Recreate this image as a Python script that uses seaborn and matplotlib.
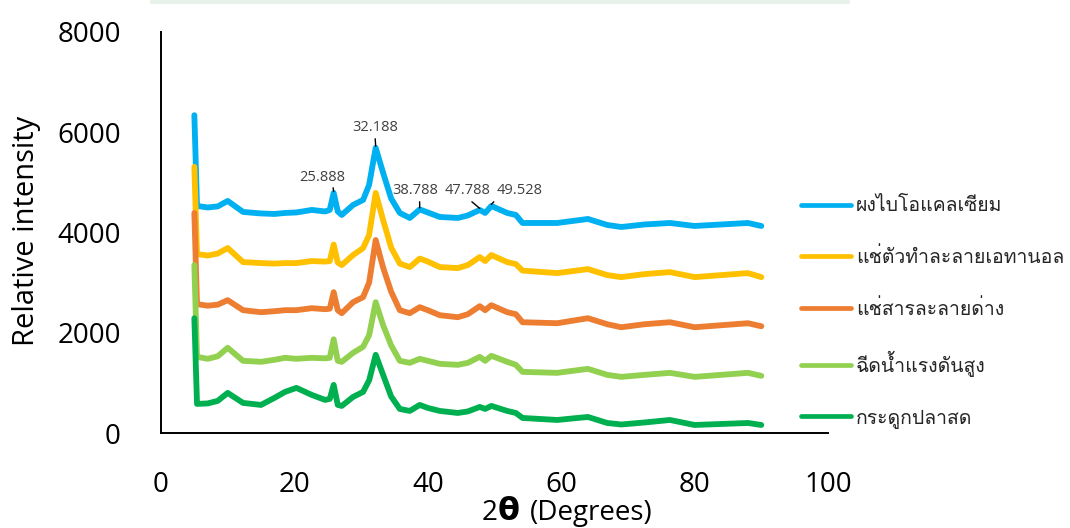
import matplotlib
matplotlib.use("Agg")
import matplotlib.pyplot as plt
import numpy as np
import pandas as pd
import seaborn as sns
from matplotlib import font_manager
from matplotlib.ft2font import FT2Font
from matplotlib.patches import Rectangle

# 2-theta scan positions (degrees) shared by every sample
two_theta = [5.0, 5.4, 7.0, 8.5, 10.0, 12.3, 15.0, 17.0, 18.6, 20.3, 22.6, 24.6,
             25.3, 25.888, 26.5, 27.1, 28.8, 30.3, 31.2, 32.188, 33.3, 34.5, 35.8,
             37.3, 38.788, 40.0, 41.8, 44.5, 46.0, 47.788, 48.6, 49.528, 51.9, 53.2,
             54.2, 59.4, 64.0, 66.9, 69.0, 72.5, 76.3, 80.0, 84.0, 88.0, 90.0]

bio_calcium = [6340, 4530, 4500, 4520, 4630, 4410, 4380, 4370, 4390, 4400, 4450, 4420,
               4450, 4790, 4420, 4350, 4550, 4650, 4950, 5690, 5190, 4680, 4390,
               4290, 4460, 4400, 4310, 4290, 4340, 4450, 4390, 4530, 4390, 4350,
               4190, 4190, 4270, 4150, 4110, 4160, 4190, 4130, 4160, 4190, 4130]
ethanol_soak = [5310, 3570, 3540, 3580, 3690, 3410, 3390, 3380, 3390, 3390, 3430, 3420,
                3430, 3760, 3400, 3350, 3550, 3690, 3950, 4790, 4250, 3700, 3380,
                3310, 3480, 3420, 3310, 3290, 3350, 3510, 3430, 3550, 3410, 3370,
                3240, 3190, 3270, 3150, 3110, 3170, 3210, 3110, 3150, 3190, 3110]
alkali_soak = [4390, 2570, 2540, 2560, 2650, 2450, 2410, 2430, 2450, 2450, 2490, 2470,
               2480, 2810, 2450, 2390, 2610, 2710, 3000, 3850, 3300, 2820, 2450,
               2390, 2510, 2450, 2350, 2310, 2370, 2530, 2450, 2550, 2410, 2370,
               2210, 2190, 2290, 2170, 2110, 2170, 2210, 2110, 2150, 2190, 2130]
pressure_wash = [3350, 1520, 1480, 1530, 1700, 1440, 1420, 1460, 1500, 1480, 1500, 1490,
                 1500, 1870, 1440, 1420, 1600, 1720, 1950, 2610, 2150, 1750, 1440,
                 1400, 1480, 1440, 1380, 1360, 1400, 1520, 1440, 1540, 1420, 1360,
                 1220, 1200, 1280, 1160, 1120, 1160, 1200, 1120, 1160, 1200, 1140]
fresh_bone = [2290, 580, 590, 640, 800, 600, 560, 700, 820, 900, 760, 660,
              680, 960, 560, 540, 720, 820, 1050, 1560, 1160, 730, 480,
              440, 560, 500, 440, 400, 430, 520, 480, 540, 440, 400,
              300, 260, 320, 200, 170, 210, 260, 160, 180, 200, 160]

sample_names = ["ผงไบโอแคลเซียม", "แช่ตัวทำละลายเอทานอล", "แช่สารละลายด่าง",
                "ฉีดน้ำแรงดันสูง", "กระดูกปลาสด"]
sample_colors = ["#00B0F0", "#FFC000", "#ED7D31", "#92D050", "#00B050"]

peak_labels = ["25.888", "32.188", "38.788", "47.788", "49.528"]

x_ticks = [0, 20, 40, 60, 80, 100]
y_ticks = [0, 2000, 4000, 6000, 8000]


def find_thai_family():
    for f in font_manager.fontManager.ttflist:
        try:
            cmap = FT2Font(f.fname).get_charmap()
        except Exception:
            continue
        if 0x0E01 in cmap and 0x0E49 in cmap and 0x0E35 in cmap:
            return f.name
    return None


thai_family = find_thai_family()

sns.set_theme(style="white")
plt.rcParams["font.family"] = ["Open Sans", "DejaVu Sans"]

series = [bio_calcium, ethanol_soak, alkali_soak, pressure_wash, fresh_bone]
frames = []
for name, vals in zip(sample_names, series):
    frames.append(pd.DataFrame({"two_theta": two_theta, "intensity": vals, "sample": name}))
df = pd.concat(frames, ignore_index=True)

fig = plt.figure(figsize=(10.7, 5.28), dpi=100)

# faint banner strip along the top edge
fig.patches.append(Rectangle((150 / 1070, 1 - 4 / 528), 700 / 1070, 4 / 528,
                             transform=fig.transFigure, facecolor="#E6F2EA",
                             edgecolor="none", zorder=0))

ax = fig.add_axes([161 / 1070, (528 - 433) / 528, (828 - 161) / 1070, (433 - 32) / 528])
ax.patch.set_alpha(0)

sns.lineplot(data=df, x="two_theta", y="intensity", hue="sample", hue_order=sample_names,
             palette=sample_colors, estimator=None, sort=False, linewidth=4.2, ax=ax)

ax.set_xlim(0, 100)
ax.set_ylim(0, 8000)
ax.set_xticks(x_ticks)
ax.set_yticks(y_ticks)
ax.tick_params(axis="both", length=0, labelsize=20, colors="black")
ax.tick_params(axis="y", pad=29)
ax.tick_params(axis="x", pad=27)

for side in ["top", "right"]:
    ax.spines[side].set_visible(False)
for side in ["left", "bottom"]:
    ax.spines[side].set_color("black")
    ax.spines[side].set_linewidth(1.4)

ax.set_xlabel("")
ax.set_ylabel("Relative intensity", fontsize=21, color="black")
ax.yaxis.set_label_coords(-0.18, 0.505)

# axis title built from pieces sharing one baseline: "2", bold theta, "(Degrees)"
base_y = 8 / 528
fig.text(482 / 1070, base_y, "2", fontsize=20, ha="left", va="baseline", color="black")
fig.text(498 / 1070, base_y, "θ", fontsize=23, fontweight="bold", ha="left", va="baseline",
         color="black", family=["DejaVu Sans"])
fig.text(530 / 1070, base_y, "(Degrees)", fontsize=20, ha="left", va="baseline", color="black")

# peak annotations on the top trace
peak_x = [float(p) for p in peak_labels]
bio_lookup = dict(zip(two_theta, bio_calcium))
text_pos = [(24.14, 5107), (32.08, 6085), (38.08, 4828), (46.03, 4828), (53.8, 4828)]
rel_pos = [(0.73, 0.0), (0.5, 0.0), (0.6, 0.0), (0.5, 0.0), (0.0, 0.0)]
for lab, px, tp, rp in zip(peak_labels, peak_x, text_pos, rel_pos):
    ax.annotate(lab, xy=(px, bio_lookup[px] + 30), xytext=tp, textcoords="data",
                ha="center", va="center", fontsize=10.5, color="#404040",
                arrowprops=dict(arrowstyle="-", color="black", lw=1.0, relpos=rp,
                                shrinkA=0, shrinkB=0))

leg = ax.legend(loc="upper left", bbox_to_anchor=(783 / 1070, 1 - 180 / 528),
                bbox_transform=fig.transFigure, frameon=False,
                handlelength=2.6, handletextpad=0.25, labelspacing=1.64,
                prop={"family": [thai_family or "DejaVu Sans", "DejaVu Sans"], "size": 14})
for line in leg.get_lines():
    line.set_linewidth(3.4)

fig.savefig("out.png", dpi=100)
